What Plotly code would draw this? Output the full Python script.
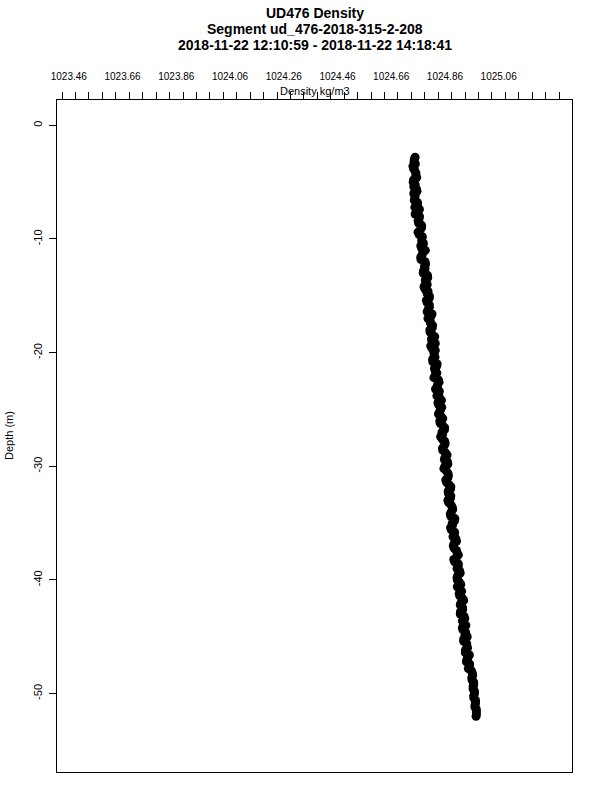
import plotly.graph_objects as go

# ---- data ----
depth = [-2.8, -3.2, -3.6, -4.0, -4.4, -4.8, -5.2, -5.6, -6.0, -6.4, -6.8, -7.2, -7.6, -8.0, -8.4, -8.8,
         -9.2, -9.6, -10.0, -10.4, -10.8, -11.2, -11.6, -12.0, -12.4, -12.8, -13.2, -13.6, -14.0, -14.4,
         -14.8, -15.2, -15.6, -16.0, -16.4, -16.8, -17.2, -17.6, -18.0, -18.4, -18.8, -19.2, -19.6, -20.0,
         -20.4, -20.8, -21.2, -21.6, -22.0, -22.4, -22.8, -23.2, -23.6, -24.0, -24.4, -24.8, -25.2, -25.6,
         -26.0, -26.4, -26.8, -27.2, -27.6, -28.0, -28.4, -28.8, -29.2, -29.6, -30.0, -30.4, -30.8, -31.2,
         -31.6, -32.0, -32.4, -32.8, -33.2, -33.6, -34.0, -34.4, -34.8, -35.2, -35.6, -36.0, -36.4, -36.8,
         -37.2, -37.6, -38.0, -38.4, -38.8, -39.2, -39.6, -40.0, -40.4, -40.8, -41.2, -41.6, -42.0, -42.4,
         -42.8, -43.2, -43.6, -44.0, -44.4, -44.8, -45.2, -45.6, -46.0, -46.4, -46.8, -47.2, -47.6, -48.0,
         -48.4, -48.8, -49.2, -49.6, -50.0, -50.4, -50.8, -51.2, -51.6, -52.0]

density = [1024.749, 1024.745, 1024.741, 1024.748, 1024.752, 1024.743, 1024.749, 1024.754, 1024.744,
           1024.748, 1024.758, 1024.748, 1024.759, 1024.765, 1024.760, 1024.773, 1024.768, 1024.764,
           1024.774, 1024.780, 1024.773, 1024.778, 1024.770, 1024.786, 1024.784, 1024.780, 1024.795,
           1024.787, 1024.794, 1024.786, 1024.794, 1024.802, 1024.794, 1024.802, 1024.794, 1024.808,
           1024.805, 1024.814, 1024.804, 1024.812, 1024.810, 1024.824, 1024.811, 1024.819, 1024.823,
           1024.815, 1024.829, 1024.824, 1024.824, 1024.836, 1024.833, 1024.825, 1024.837, 1024.841,
           1024.834, 1024.848, 1024.840, 1024.845, 1024.841, 1024.851, 1024.858, 1024.851, 1024.850,
           1024.861, 1024.851, 1024.862, 1024.861, 1024.869, 1024.860, 1024.865, 1024.873, 1024.863,
           1024.874, 1024.881, 1024.873, 1024.881, 1024.874, 1024.887, 1024.884, 1024.882, 1024.896,
           1024.888, 1024.884, 1024.895, 1024.901, 1024.894, 1024.894, 1024.905, 1024.903, 1024.896,
           1024.909, 1024.915, 1024.908, 1024.906, 1024.919, 1024.915, 1024.913, 1024.925, 1024.920,
           1024.925, 1024.918, 1024.931, 1024.925, 1024.938, 1024.927, 1024.935, 1024.930, 1024.941,
           1024.944, 1024.936, 1024.946, 1024.940, 1024.951, 1024.959, 1024.963, 1024.961, 1024.967,
           1024.965, 1024.970, 1024.968, 1024.974, 1024.972, 1024.977, 1024.976]

depth_b = [-3.0, -3.4, -3.8, -4.2, -4.6, -5.0, -5.4, -5.8, -6.2, -6.6,
           -7.0, -7.4, -7.8, -8.2, -8.6, -9.0, -9.4, -9.8, -10.2, -10.6,
           -11.0, -11.4, -11.8, -12.2, -12.6, -13.0, -13.4, -13.8, -14.2, -14.6,
           -15.0, -15.4, -15.8, -16.2, -16.6, -17.0, -17.4, -17.8, -18.2, -18.6,
           -19.0, -19.4, -19.8, -20.2, -20.6, -21.0, -21.4, -21.8, -22.2, -22.6,
           -23.0, -23.4, -23.8, -24.2, -24.6, -25.0, -25.4, -25.8, -26.2, -26.6,
           -27.0, -27.4, -27.8, -28.2, -28.6, -29.0, -29.4, -29.8, -30.2, -30.6,
           -31.0, -31.4, -31.8, -32.2, -32.6, -33.0, -33.4, -33.8, -34.2, -34.6,
           -35.0, -35.4, -35.8, -36.2, -36.6, -37.0, -37.4, -37.8, -38.2, -38.6,
           -39.0, -39.4, -39.8, -40.2, -40.6, -41.0, -41.4, -41.8, -42.2, -42.6,
           -43.0, -43.4, -43.8, -44.2, -44.6, -45.0, -45.4, -45.8, -46.2, -46.6,
           -47.0, -47.4, -47.8, -48.2, -48.6, -49.0, -49.4, -49.8, -50.2, -50.6,
           -51.0, -51.4, -51.8]

density_b = [1024.746, 1024.750, 1024.743, 1024.752, 1024.755, 1024.742, 1024.744, 1024.756, 1024.749, 1024.746,
             1024.758, 1024.765, 1024.749, 1024.764, 1024.762, 1024.773, 1024.760, 1024.776, 1024.774, 1024.770,
             1024.787, 1024.775, 1024.771, 1024.788, 1024.786, 1024.779, 1024.796, 1024.789, 1024.782, 1024.797,
             1024.802, 1024.791, 1024.802, 1024.798, 1024.812, 1024.797, 1024.806, 1024.813, 1024.805, 1024.822,
             1024.812, 1024.807, 1024.824, 1024.820, 1024.814, 1024.831, 1024.821, 1024.830, 1024.819, 1024.838,
             1024.831, 1024.839, 1024.830, 1024.847, 1024.837, 1024.844, 1024.836, 1024.852, 1024.842, 1024.859,
             1024.849, 1024.844, 1024.859, 1024.857, 1024.852, 1024.868, 1024.858, 1024.871, 1024.856, 1024.871,
             1024.871, 1024.866, 1024.882, 1024.872, 1024.882, 1024.871, 1024.883, 1024.889, 1024.880, 1024.897,
             1024.887, 1024.881, 1024.896, 1024.890, 1024.903, 1024.891, 1024.903, 1024.910, 1024.893, 1024.910,
             1024.905, 1024.917, 1024.905, 1024.914, 1024.906, 1024.922, 1024.915, 1024.930, 1024.917, 1024.926,
             1024.917, 1024.934, 1024.929, 1024.925, 1024.937, 1024.943, 1024.930, 1024.942, 1024.936, 1024.951,
             1024.942, 1024.952, 1024.947, 1024.962, 1024.960, 1024.967, 1024.965, 1024.970, 1024.967, 1024.974,
             1024.972, 1024.977, 1024.977]

x_label_vals = [1023.46, 1023.66, 1023.86, 1024.06, 1024.26, 1024.46, 1024.66, 1024.86, 1025.06]
x_label_text = ["1023.46", "1023.66", "1023.86", "1024.06", "1024.26", "1024.46", "1024.66", "1024.86", "1025.06"]
y_tick_vals = [0, -10, -20, -30, -40, -50]
y_tick_text = ["0", "-10", "-20", "-30", "-40", "-50"]

title_lines = ["UD476 Density", "Segment ud_476-2018-315-2-208",
               "2018-11-22 12:10:59 - 2018-11-22 14:18:41"]
x_title = "Density kg/m3"
y_title = "Depth (m)"

# ---- layout geometry ----
W, H = 600, 800
L, R, T, B = 57, 28, 100, 28
x_range = [1023.416, 1025.333]
y_range = [-56.9, 2.23]
FONT = "Liberation Sans, Arial, Helvetica, sans-serif"


def py(p):
    return (H - B - p) / (H - T - B)


def px(p):
    return (p - L) / (W - L - R)


fig = go.Figure()
fig.add_trace(go.Scatter(x=density, y=depth, mode="markers",
                         marker=dict(color="black", size=9, line=dict(width=0)),
                         hoverinfo="skip", showlegend=False))
fig.add_trace(go.Scatter(x=density_b, y=depth_b, mode="markers",
                         marker=dict(color="black", size=9, line=dict(width=0)),
                         hoverinfo="skip", showlegend=False))
fig.add_trace(go.Scatter(x=density, y=depth, mode="markers", xaxis="x2",
                         marker=dict(color="rgba(0,0,0,0)", size=1),
                         hoverinfo="skip", showlegend=False))

fig.update_layout(
    width=W, height=H,
    margin=dict(l=L, r=R, t=T, b=B, pad=0),
    paper_bgcolor="white", plot_bgcolor="white",
    font=dict(family=FONT, color="black", size=10),
    showlegend=False,
    xaxis=dict(side="top", range=x_range, tickmode="array", tickvals=x_label_vals,
               ticktext=x_label_text, ticks="outside", ticklen=15, tickcolor="rgba(0,0,0,0)",
               showline=True, mirror=True, linecolor="black", linewidth=1,
               showgrid=False, zeroline=False, tickfont=dict(size=10)),
    xaxis2=dict(side="top", overlaying="x", range=x_range, tickmode="linear",
                tick0=1023.485, dtick=0.05, ticks="outside", ticklen=7, tickcolor="black",
                tickwidth=1, showticklabels=False, showline=False, showgrid=False,
                zeroline=False),
    yaxis=dict(range=y_range, tickmode="array", tickvals=y_tick_vals, ticktext=y_tick_text,
               ticks="outside", ticklen=7, tickcolor="black", tickwidth=1, tickangle=-90,
               ticklabelstandoff=3,
               showline=True, mirror=True, linecolor="black", linewidth=1,
               showgrid=False, zeroline=False, tickfont=dict(size=11)),
)

annotations = []
for text, ypix in zip(title_lines, [13, 29, 45]):
    annotations.append(dict(text="<b>" + text + "</b>", xref="paper", yref="paper",
                            x=0.5, y=py(ypix), xanchor="center", yanchor="middle",
                            showarrow=False, font=dict(size=14, family=FONT)))
annotations.append(dict(text=x_title, xref="paper", yref="paper", x=0.5, y=py(91),
                        xanchor="center", yanchor="middle", showarrow=False,
                        font=dict(size=11, family=FONT)))
annotations.append(dict(text=y_title, xref="paper", yref="paper", x=px(9), y=0.5,
                        xanchor="center", yanchor="middle", textangle=-90, showarrow=False,
                        font=dict(size=11, family=FONT)))
fig.update_layout(annotations=annotations)

fig.write_html("out.html", config={"displayModeBar": False, "staticPlot": True},
               post_script="document.body.style.margin='0px';document.body.style.padding='0px';")
